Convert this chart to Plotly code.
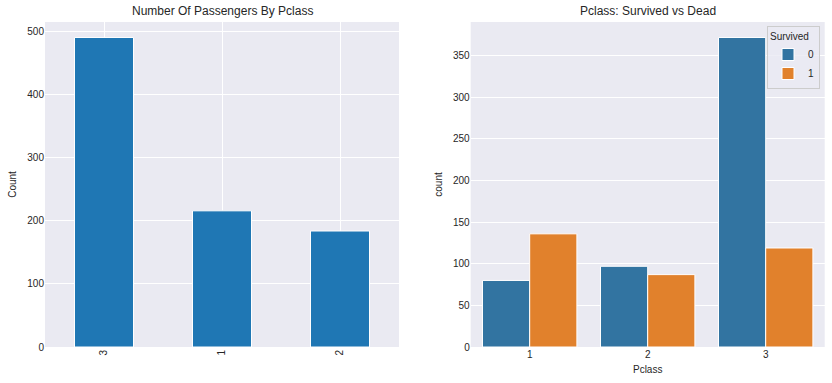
import plotly.graph_objects as go

# Data
class_order = ["3", "1", "2"]
class_counts = [491, 216, 184]

pclass = ["1", "2", "3"]
dead = [80, 97, 372]
survived = [136, 87, 119]

W, H = 832, 383
def px(x): return x / W
def py(y): return 1 - y / H

BG = "#eaeaf2"
TXT = "#262626"
FONT = "Liberation Sans, Arial, sans-serif"

fig = go.Figure()

fig.add_trace(go.Bar(
    x=class_order, y=class_counts, width=0.5, offset=-0.25,
    marker=dict(color="#1f77b4", line=dict(color="white", width=1)),
    xaxis="x", yaxis="y", showlegend=False))

fig.add_trace(go.Bar(
    x=pclass, y=dead, name="0", width=0.4, offset=-0.4,
    marker=dict(color="#3274a1", line=dict(color="white", width=1)),
    xaxis="x2", yaxis="y2"))
fig.add_trace(go.Bar(
    x=pclass, y=survived, name="1", width=0.4, offset=0.0,
    marker=dict(color="#e1812c", line=dict(color="white", width=1)),
    xaxis="x2", yaxis="y2"))

ydom = [py(347), py(22)]
common_ax = dict(showline=False, zeroline=False, ticks="", gridcolor="white",
                 gridwidth=1, automargin=False,
                 tickfont=dict(size=10, color=TXT, family=FONT))

fig.update_layout(
    width=W, height=H, margin=dict(l=0, r=0, t=0, b=0, autoexpand=False),
    paper_bgcolor="white", plot_bgcolor=BG, barmode="overlay",
    font=dict(family=FONT, color=TXT, size=10),
    xaxis=dict(domain=[px(45), px(399)], type="category", range=[-0.5, 2.5],
               anchor="y", showgrid=True, tickangle=-90, **common_ax),
    yaxis=dict(domain=ydom, range=[0, 515.55], anchor="x", showgrid=True,
               dtick=100, title=dict(text="Count", font=dict(size=10, color=TXT), standoff=8),
               **common_ax),
    xaxis2=dict(domain=[px(470.7), px(824.7)], type="category", range=[-0.5, 2.5],
                anchor="y2", showgrid=False,
                title=dict(text="Pclass", font=dict(size=10, color=TXT), standoff=6),
                **common_ax),
    yaxis2=dict(domain=ydom, range=[0, 390.6], anchor="x2", showgrid=True,
                dtick=50, title=dict(text="count", font=dict(size=10, color=TXT), standoff=8),
                **common_ax),
    legend=dict(title=dict(text="Survived", font=dict(size=10, color=TXT)),
                x=px(820), y=py(26), xanchor="right", yanchor="top",
                bgcolor="rgba(234,234,242,0.8)", bordercolor="#cccccc", borderwidth=1,
                font=dict(size=10, color=TXT), tracegroupgap=0, itemwidth=30),
    annotations=[
        dict(text="Number Of Passengers By Pclass", x=px(222), y=py(11), xref="paper",
             yref="paper", xanchor="center", yanchor="middle", showarrow=False,
             font=dict(size=12, color=TXT, family=FONT)),
        dict(text="Pclass: Survived vs Dead", x=px(647.7), y=py(11), xref="paper",
             yref="paper", xanchor="center", yanchor="middle", showarrow=False,
             font=dict(size=12, color=TXT, family=FONT)),
    ],
)

fig.write_html("out.html", config={"displayModeBar": False},
               post_script="document.body.style.margin='0';document.body.style.overflow='hidden';")
